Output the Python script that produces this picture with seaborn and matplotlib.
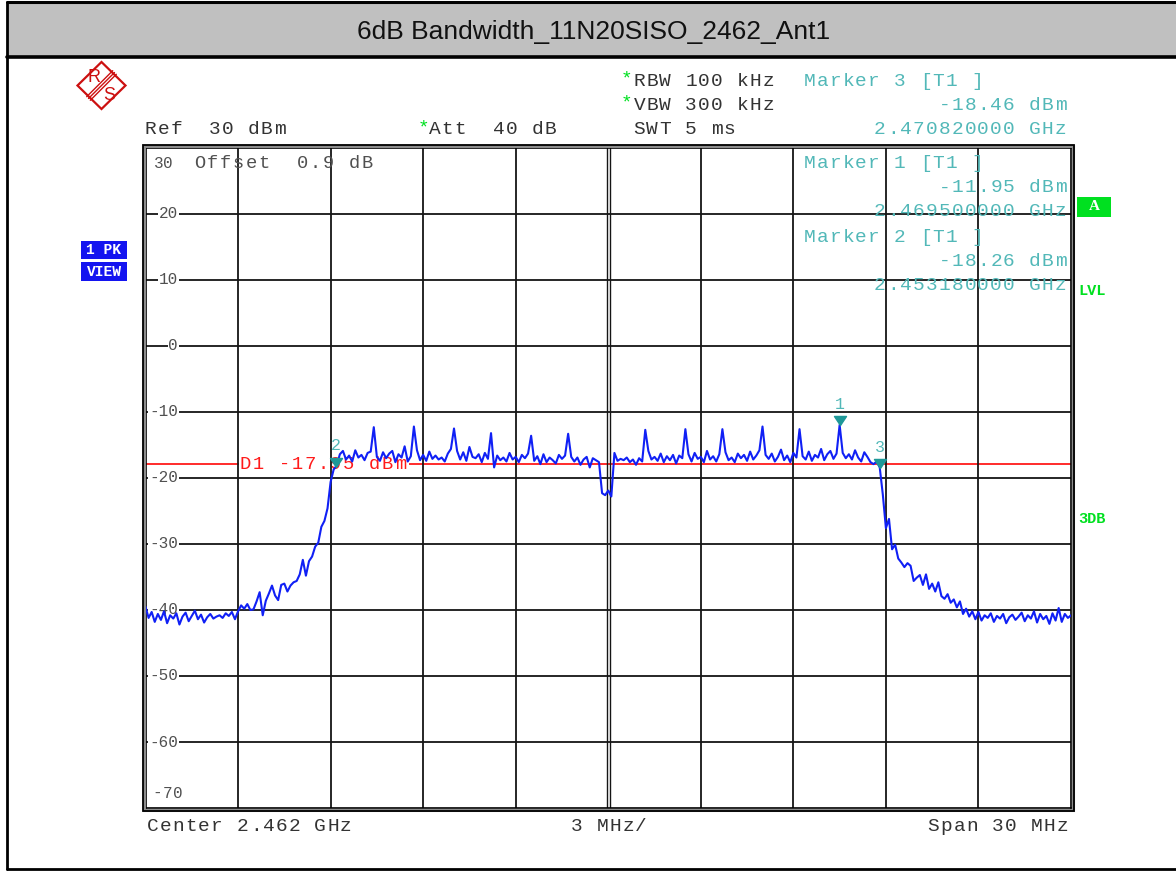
import numpy as np
import pandas as pd
import matplotlib
matplotlib.use("Agg")
import matplotlib.pyplot as plt
from matplotlib.patches import Rectangle, Polygon
from matplotlib.lines import Line2D
from matplotlib.path import Path
import matplotlib.transforms as mtransforms
import seaborn as sns

# ---------------- sweep settings ----------------
center_ghz = 2.462
span_mhz = 30.0
ref_level = 30
n_points = 301

# ---------------- trace levels (dBm), low to high frequency ----------------
floor_low = [-39.5, -41.2, -40.3, -41.8, -40.6, -41.5, -40.2, -42.0, -40.8, -41.3,
             -40.5, -42.2, -41.0, -40.4, -41.7, -40.9, -40.1, -41.4, -40.7, -41.9,
             -41.1, -40.6, -41.3, -41.0, -40.8, -41.2, -40.5, -40.9, -40.3, -41.4,
             -40.2]
rising_edge = [-39.3, -39.8, -39.1, -40.0, -39.9, -38.7, -37.3, -40.8, -38.6, -37.5,
               -36.3, -37.8, -38.5, -36.2, -36.0, -37.2, -36.3, -35.8, -35.6, -34.6,
               -32.4, -34.8, -32.6, -31.9, -30.4, -29.8, -27.4, -26.5, -24.6, -20.6,
               -18.7]
passband_low = [-18.1, -16.4, -15.9, -17.2, -16.6, -17.5, -15.8, -16.9, -16.5, -17.3,
                -16.2, -16.0, -12.3, -16.8, -17.4, -16.1, -17.0, -16.3, -15.9, -17.6,
                -16.4, -16.9, -15.2, -17.5, -16.7, -12.2, -15.8, -17.3, -16.5, -17.4,
                -16.0, -17.1, -16.6, -17.2, -16.9, -17.5, -16.3, -15.6, -12.5, -15.9,
                -17.2, -16.1, -17.4, -15.3, -16.8, -17.0, -16.4, -17.6, -16.2, -17.1,
                -13.2, -18.4, -16.6, -17.3, -16.9, -17.5, -16.2, -17.2, -16.8, -17.6,
                -16.5, -17.0, -16.3, -13.6, -17.4, -16.7, -17.9, -16.4, -17.6, -16.9,
                -17.3, -17.8, -16.5, -17.1, -16.6, -13.3, -16.8, -17.5, -16.9, -18.0,
                -17.2, -16.8, -18.4, -17.0, -17.3, -17.6]
center_notch = [-22.3, -22.6, -21.9, -22.8]
passband_high = [-16.2, -17.4, -17.1, -17.3, -16.9, -17.6, -17.2, -18.0, -17.0, -17.5,
                 -12.7, -15.9, -17.2, -16.8, -17.4, -16.3, -17.6, -16.7, -17.3, -16.5,
                 -17.8, -16.6, -17.0, -12.6, -16.4, -17.5, -16.2, -17.1, -16.8, -17.6,
                 -15.9, -17.2, -16.7, -17.5, -16.4, -12.6, -16.1, -17.3, -16.9, -17.6,
                 -16.3, -17.0, -16.5, -17.4, -16.0, -17.2, -16.6, -15.8, -12.2, -16.5,
                 -17.1, -16.3, -17.5, -16.8, -15.7, -17.3, -16.6, -17.6, -16.2, -16.9,
                 -12.6, -16.7, -17.2, -16.0, -17.4, -16.5, -16.9, -15.6, -17.3, -16.4,
                 -15.9, -17.1, -16.3, -11.95, -16.2, -17.0, -16.4, -17.2, -15.8, -16.9,
                 -17.5, -16.1, -16.8, -17.6, -17.9, -17.5]
falling_edge = [-18.4, -22.5, -27.6, -26.2, -30.8, -30.1, -32.2, -32.8, -33.5, -32.9,
                -33.3, -35.6, -35.1, -34.7, -36.2, -34.6, -36.8, -36.0, -37.2, -35.8,
                -37.9, -38.3, -37.6, -38.9, -38.4, -39.6, -38.7, -40.6, -39.8, -41.0,
                -40.2, -41.4, -40.3]
floor_high = [-41.6, -40.8, -41.2, -40.5, -41.8, -40.9, -41.3, -40.6, -42.0, -41.1,
              -40.7, -41.5, -41.0, -40.4, -41.7, -40.8, -41.3, -40.2, -41.9, -40.6,
              -41.4, -40.9, -42.1, -40.5, -41.6, -39.7, -41.8, -40.6, -41.2, -40.8]

# ---------------- markers and display line ----------------
marker_ids = ["1", "2", "3"]
marker_freq_ghz = [2.469500, 2.453180, 2.470820]
marker_level_dbm = [-11.95, -18.26, -18.46]
display_line_dbm = -17.95
y_ticks = [20, 10, 0, -10, -20, -30, -40, -50, -60]

# ---------------- colours ----------------
TRACE = "#1020F5"
TEAL = "#52B8B8"
TEAL_DARK = "#1E9898"
RED = "#FF1A1A"
GREEN = "#00E020"
BLUE_BOX = "#1414F0"
INK = "#333333"
SCALE_INK = "#505050"

level = np.array(floor_low + rising_edge + passband_low + center_notch
                 + passband_high + falling_edge + floor_high)
f_start = center_ghz - span_mhz / 2000
f_stop = center_ghz + span_mhz / 2000
freq = np.linspace(f_start, f_stop, n_points)
df = pd.DataFrame({"freq_ghz": freq, "level_dbm": level})

sns.set_style("white")
plt.rcParams["font.family"] = ["Liberation Mono", "DejaVu Sans Mono"]

W, H = 1176, 871
fig = plt.figure(figsize=(W / 100, H / 100), dpi=100)


def fx(x):
    return x / W


def fy(y):
    return 1 - y / H


def spaced(x, y, s, color=INK, size=14, pitch=12.9, ha="left", host=None,
           zorder=3, **kw):
    """Monospaced text with the instrument's wide character pitch."""
    host = fig if host is None else host
    if ha == "right":
        x = x - pitch * len(s)
    for i, ch in enumerate(s):
        if ch == " ":
            continue
        host.text(fx(x + (i + 0.5) * pitch), fy(y), ch, color=color, fontsize=size,
                  ha="center", va="center", transform=fig.transFigure,
                  zorder=zorder, **kw)


# ---------------- page frame and title bar ----------------
fig.add_artist(Rectangle((fx(8), fy(57)), fx(W - 8), (57 - 2) / H,
                         transform=fig.transFigure, facecolor="#C0C0C0",
                         edgecolor="none", zorder=0))
for xs, ys, lw in [([7, W], [2, 2], 2.2), ([7, W], [57, 57], 2.6),
                   ([7, 7], [2, 869], 2.0), ([7, W], [869, 869], 2.0)]:
    fig.add_artist(Line2D([fx(v) for v in xs], [fy(v) for v in ys],
                          transform=fig.transFigure, color="black", lw=lw))
fig.text(fx(594), fy(32), "6dB Bandwidth_11N20SISO_2462_Ant1",
         family="Liberation Sans", fontsize=19, ha="center", va="center", color="#111111")

# ---------------- R&S logo ----------------
cx, cy = 101.5, 85.5
logo_red = "#CC1010"
fig.add_artist(Polygon([(fx(cx), fy(cy - 23.5)), (fx(cx + 24), fy(cy)),
                        (fx(cx), fy(cy + 23.5)), (fx(cx - 24), fy(cy))],
                       closed=True, transform=fig.transFigure, fill=False,
                       edgecolor=logo_red, lw=1.6))
for off in (-1.8, 0.0, 1.8):
    fig.add_artist(Line2D([fx(cx - 13 + off), fx(cx + 13 + off)],
                          [fy(cy + 13 + off), fy(cy - 13 + off)],
                          transform=fig.transFigure, color=logo_red, lw=1.0))
fig.text(fx(94), fy(77), "R", family="Liberation Sans", fontsize=13,
         color=logo_red, ha="center", va="center")
fig.text(fx(109), fy(95), "S", family="Liberation Sans", fontsize=13,
         color=logo_red, ha="center", va="center")

# ---------------- header settings ----------------
spaced(620, 79, "*", color=GREEN)
spaced(633, 81, "RBW 100 kHz")
spaced(620, 103, "*", color=GREEN)
spaced(633, 105, "VBW 300 kHz")
spaced(144, 130, "Ref  30 dBm")
spaced(417, 128, "*", color=GREEN)
spaced(428, 130, "Att  40 dB")
spaced(633, 130, "SWT 5 ms")
spaced(803, 81, "Marker 3 [T1 ]", color=TEAL)
spaced(1067, 105, "%.2f dBm" % marker_level_dbm[2], color=TEAL, ha="right")
spaced(1067, 130, "%.9f GHz" % marker_freq_ghz[2], color=TEAL, ha="right")

# ---------------- plot area ----------------
ax = fig.add_axes([fx(145.5), fy(808), (1071 - 145.5) / W, (808 - 148) / H])
ax.set_xlim(f_start, f_stop)
ax.set_ylim(ref_level - 100, ref_level)
ax.set_xticks([])
ax.set_yticks([])
for sp in ax.spines.values():
    sp.set_color("black")
    sp.set_linewidth(1.2)
# double frame around the graticule
fig.add_artist(Rectangle((fx(143.6), fy(809.9)), (1072.9 - 143.6) / W, (809.9 - 146.1) / H,
                         transform=fig.transFigure, fill=False, edgecolor="#8C8C8C", lw=2.2))
fig.add_artist(Rectangle((fx(142.5), fy(811.0)), (1074.0 - 142.5) / W, (811.0 - 145.0) / H,
                         transform=fig.transFigure, fill=False, edgecolor="black", lw=1.3))

div = span_mhz / 10 / 1000
for k in range(1, 10):
    xv = f_start + k * div
    if k == 5:
        for d in (-0.00005, 0.00005):
            ax.axvline(xv + d, color="#151515", lw=1.0, zorder=2)
    else:
        ax.axvline(xv, color="#151515", lw=1.3, zorder=2)
for yv in y_ticks:
    ax.axhline(yv, color="#151515", lw=1.3, zorder=2)

ytrans = mtransforms.blended_transform_factory(ax.transAxes, ax.transData)
lab_x = (178 - 145.5) / (1071 - 145.5)
for yv in y_ticks:
    ax.text(lab_x, yv, str(yv), transform=ytrans, ha="right", va="center",
            fontsize=11.5, color=SCALE_INK, zorder=2.2,
            bbox=dict(facecolor="white", edgecolor="none", pad=0.6))
spaced(154, 163, "30", color=SCALE_INK, size=11.5, pitch=9.4)
spaced(193, 163, "Offset  0.9 dB", color=SCALE_INK, size=13.5)
spaced(152, 793, "-70", color=SCALE_INK, size=11.5, pitch=10.5)

# display line D1, its label masks the line
ax.axhline(display_line_dbm, color=RED, lw=1.3, zorder=1.9)
ax.add_patch(Rectangle((fx(239), fy(471)), (409 - 239) / W, 14 / H,
                       transform=fig.transFigure, facecolor="white",
                       edgecolor="none", zorder=1.95))
spaced(239, 464, "D1 %.2f dBm" % display_line_dbm, color=RED, size=13.5,
       host=ax, zorder=1.97)

# trace
sns.lineplot(data=df, x="freq_ghz", y="level_dbm", ax=ax, color=TRACE, lw=1.5,
             zorder=4, estimator=None, sort=False)
ax.set_xlabel("")
ax.set_ylabel("")

# marker triangles, tip on the measured point
tri = Path([(-1.0, 1.5), (1.0, 1.5), (0.0, 0.0), (-1.0, 1.5)],
           [Path.MOVETO, Path.LINETO, Path.LINETO, Path.CLOSEPOLY])
for mid, mf, ml in zip(marker_ids, marker_freq_ghz, marker_level_dbm):
    ax.plot([mf], [ml], marker=tri, markersize=13, color=TEAL_DARK, ls="none", zorder=5)
    ax.annotate(mid, (mf, ml), xytext=(0, 15), textcoords="offset points",
                ha="center", va="center", fontsize=12, color=TEAL, zorder=5)

# marker readouts inside the graticule
spaced(803, 164, "Marker 1 [T1 ]", color=TEAL)
spaced(1067, 188, "%.2f dBm" % marker_level_dbm[0], color=TEAL, ha="right")
spaced(1067, 212, "%.9f GHz" % marker_freq_ghz[0], color=TEAL, ha="right")
spaced(803, 237, "Marker 2 [T1 ]", color=TEAL)
spaced(1067, 261, "%.2f dBm" % marker_level_dbm[1], color=TEAL, ha="right")
spaced(1067, 285, "%.9f GHz" % marker_freq_ghz[1], color=TEAL, ha="right")

# ---------------- side annotations ----------------
fig.add_artist(Rectangle((fx(1077), fy(217)), 34 / W, 20 / H, transform=fig.transFigure,
                         facecolor=GREEN, edgecolor="none"))
fig.text(fx(1094), fy(207), "A", color="white", fontsize=11, fontweight="bold",
         family="Liberation Serif", ha="center", va="center")
fig.text(fx(1078), fy(291), "LVL", color=GREEN, fontsize=11, fontweight="bold",
         ha="left", va="center")
fig.text(fx(1078), fy(519), "3DB", color=GREEN, fontsize=11, fontweight="bold",
         ha="left", va="center")
for (y0, y1, label) in [(241, 259, "1 PK"), (262, 281, "VIEW")]:
    fig.add_artist(Rectangle((fx(81), fy(y1)), 46 / W, (y1 - y0) / H,
                             transform=fig.transFigure, facecolor=BLUE_BOX, edgecolor="none"))
    fig.text(fx(104), fy((y0 + y1) / 2), label, color="white", fontsize=10.5,
             fontweight="bold", ha="center", va="center")

# ---------------- footer ----------------
spaced(146, 826, "Center %.3f GHz" % center_ghz)
spaced(570, 826, "%d MHz/" % int(span_mhz / 10))
spaced(1069, 826, "Span %d MHz" % int(span_mhz), ha="right")

fig.savefig("out.png", dpi=100, facecolor="white")
